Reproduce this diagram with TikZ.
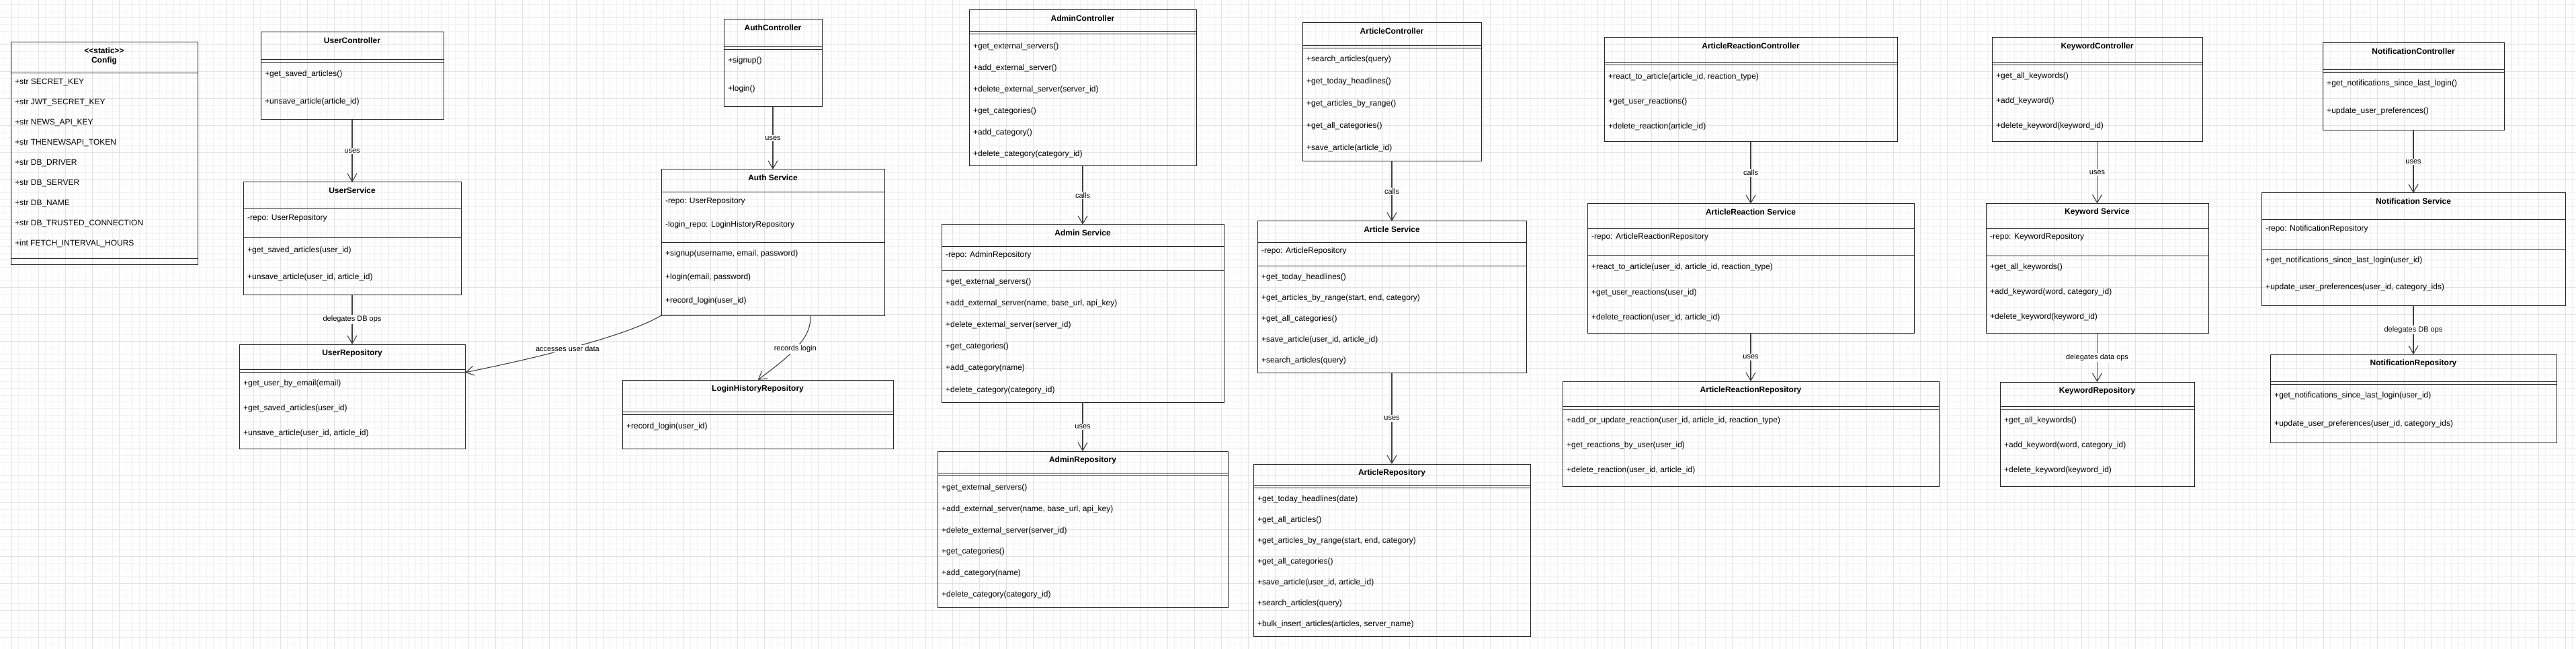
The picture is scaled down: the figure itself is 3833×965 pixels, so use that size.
\documentclass[tikz,border=0pt]{standalone}
\usepackage{fontspec}
\setmainfont{Liberation Sans}
\usetikzlibrary{arrows.meta}

% Klassenrahmen: Name, links, oben, rechts, unten, Titel
\newcommand{\klasse}[6]{%
  \xdef\kl{#2}\xdef\kr{#4}%
  \node[rahmen, minimum width={#4-#2}, minimum height={#5-#3}] (#1) at ({(#2+#4)/2},{(#3+#5)/2}) {};
  \node[titel] (#1-titel) at ([yshift=-13pt]#1.north) {#6};
}
% Trennlinie und leeres Fach
\newcommand{\trenn}[1]{\draw[linie] (\kl,#1) -- (\kr,#1);}
\newcommand{\doppel}[1]{\trenn{#1}\trenn{#1+4}}
% Zeilen: Praefix, erstes y, Abstand, Liste
\newcommand{\zeilen}[4]{%
  \foreach \z [count=\k] in {#4}
    \node[zeile] (#1-\k) at (\kl+6,{#2+(\k-1)*#3}) {\z};
}

\begin{document}
\begin{tikzpicture}[x=1pt, y=-1pt]

\tikzset{
  rahmen/.style={draw=black!85, line width=1pt, inner sep=0pt, outer sep=0pt},
  linie/.style={draw=black!85, line width=1pt},
  titel/.style={font=\bfseries\fontsize{12}{14}\selectfont, inner sep=0pt, text height=9pt, text depth=2.5pt},
  zeile/.style={anchor=west, font=\fontsize{12}{14}\selectfont, inner sep=0pt, text height=9pt, text depth=2.5pt},
  abh/.style={draw=black!75, line width=1.1pt, -{Straight Barb[length=12pt,width=14pt]}},
  beschr/.style={fill=white, font=\fontsize{11}{13}\selectfont, inner sep=1.5pt},
  rasterfein/.style={draw=black!5, line width=1pt},
  rastergrob/.style={draw=black!11, line width=1pt}
}

\useasboundingbox (0,0) rectangle (3833,965);

% 0. Raster im Hintergrund
\fill[white] (0,0) rectangle (3833,965);
\draw[rasterfein] \foreach \g in {7,17,...,3827} {(\g,0) -- (\g,965)};
\draw[rasterfein] \foreach \g in {7,17,...,957} {(0,\g) -- (3833,\g)};
\draw[rastergrob] \foreach \g in {17,57,...,3817} {(\g,0) -- (\g,965)};
\draw[rastergrob] \foreach \g in {27,67,...,947} {(0,\g) -- (3833,\g)};

% 1. Config
\klasse{config}{16}{63}{294}{393}{<\kern0pt<static>\kern0pt>}
\node[titel] (config-titel2) at ([yshift=-14pt]config-titel) {Config};
\trenn{108.3}
\zeilen{config}{122}{30}{{+str SECRET\_KEY}, {+str JWT\_SECRET\_KEY}, {+str NEWS\_API\_KEY},
  {+str THENEWSAPI\_TOKEN}, {+str DB\_DRIVER}, {+str DB\_SERVER}, {+str DB\_NAME},
  {+str DB\_TRUSTED\_CONNECTION}, {+int FETCH\_INTERVAL\_HOURS}}
\trenn{385}

% 2. User
\klasse{uctrl}{388}{48}{660}{178}{UserController}
\doppel{88.3}
\zeilen{uctrl}{110}{41}{{+get\_saved\_articles()}, {+unsave\_article(article\_id)}}

\klasse{usvc}{362}{271}{686}{438}{UserService}
\trenn{311}
\zeilen{usvc-a}{324}{0}{{-repo: UserRepository}}
\trenn{354}
\zeilen{usvc}{372}{40}{{+get\_saved\_articles(user\_id)}, {+unsave\_article(user\_id, article\_id)}}

\klasse{urepo}{356}{512}{692}{667}{UserRepository}
\doppel{549.3}
\zeilen{urepo}{570}{37}{{+get\_user\_by\_email(email)}, {+get\_saved\_articles(user\_id)},
  {+unsave\_article(user\_id, article\_id)}}

% 3. Auth
\klasse{actrl}{1077}{29}{1223}{159}{AuthController}
\doppel{69.3}
\zeilen{actrl}{90.7}{41.3}{{+signup()}, {+login()}}

\klasse{asvc}{984}{252}{1316}{469}{Auth Service}
\trenn{286}
\zeilen{asvc-a}{299.7}{35}{{-repo: UserRepository}, {-login\_repo: LoginHistoryRepository}}
\trenn{360.3}
\zeilen{asvc}{377.7}{35}{{+signup(username, email, password)}, {+login(email, password)},
  {+record\_login(user\_id)}}

\klasse{lhr}{926}{565}{1329}{667}{LoginHistoryRepository}
\doppel{612.7}
\zeilen{lhr}{634}{0}{{+record\_login(user\_id)}}

% 4. Admin
\klasse{admctrl}{1442}{15}{1780}{247}{AdminController}
\doppel{47}
\zeilen{admctrl}{69}{32}{{+get\_external\_servers()}, {+add\_external\_server()},
  {+delete\_external\_server(server\_id)}, {+get\_categories()}, {+add\_category()},
  {+delete\_category(category\_id)}}

\klasse{admsvc}{1401}{334}{1821}{598}{Admin Service}
\trenn{366.3}
\zeilen{admsvc-a}{379.7}{0}{{-repo: AdminRepository}}
\trenn{402.3}
\zeilen{admsvc}{419.3}{32.1}{{+get\_external\_servers()}, {+add\_external\_server(name, base\_url, api\_key)},
  {+delete\_external\_server(server\_id)}, {+get\_categories()}, {+add\_category(name)},
  {+delete\_category(category\_id)}}

\klasse{admrepo}{1395}{671}{1827}{903}{AdminRepository}
\doppel{703.3}
\zeilen{admrepo}{725}{31.9}{{+get\_external\_servers()}, {+add\_external\_server(name, base\_url, api\_key)},
  {+delete\_external\_server(server\_id)}, {+get\_categories()}, {+add\_category(name)},
  {+delete\_category(category\_id)}}

% 5. Article
\klasse{artctrl}{1938}{34}{2204}{240}{ArticleController}
\doppel{67.7}
\zeilen{artctrl}{88.7}{33}{{+search\_articles(query)}, {+get\_today\_headlines()},
  {+get\_articles\_by\_range()}, {+get\_all\_categories()}, {+save\_article(article\_id)}}

\klasse{artsvc}{1871}{329}{2271}{554}{Article Service}
\trenn{360.3}
\zeilen{artsvc-a}{373.7}{0}{{-repo: ArticleRepository}}
\trenn{395.3}
\zeilen{artsvc}{412.7}{31}{{+get\_today\_headlines()}, {+get\_articles\_by\_range(start, end, category)},
  {+get\_all\_categories()}, {+save\_article(user\_id, article\_id)}, {+search\_articles(query)}}

\klasse{artrepo}{1865}{690}{2277}{946}{ArticleRepository}
\doppel{721.7}
\zeilen{artrepo}{742.7}{31}{{+get\_today\_headlines(date)}, {+get\_all\_articles()},
  {+get\_articles\_by\_range(start, end, category)}, {+get\_all\_categories()},
  {+save\_article(user\_id, article\_id)}, {+search\_articles(query)},
  {+bulk\_insert\_articles(articles, server\_name)}}

% 6. ArticleReaction
\klasse{rctrl}{2387}{56}{2823}{211}{ArticleReactionController}
\doppel{92.3}
\zeilen{rctrl}{114}{37}{{+react\_to\_article(article\_id, reaction\_type)}, {+get\_user\_reactions()},
  {+delete\_reaction(article\_id)}}

\klasse{rsvc}{2362}{303}{2848}{495}{ArticleReaction Service}
\trenn{339.3}
\zeilen{rsvc-a}{352.7}{0}{{-repo: ArticleReactionRepository}}
\trenn{380}
\zeilen{rsvc}{397.7}{37.2}{{+react\_to\_article(user\_id, article\_id, reaction\_type)},
  {+get\_user\_reactions(user\_id)}, {+delete\_reaction(user\_id, article\_id)}}

\klasse{rrepo}{2325}{567}{2885}{723}{ArticleReactionRepository}
\doppel{604.3}
\zeilen{rrepo}{625.7}{37}{{+add\_or\_update\_reaction(user\_id, article\_id, reaction\_type)},
  {+get\_reactions\_by\_user(user\_id)}, {+delete\_reaction(user\_id, article\_id)}}

% 7. Keyword
\klasse{kctrl}{2964}{56}{3277}{211}{KeywordController}
\doppel{92.5}
\zeilen{kctrl}{113.4}{37.1}{{+get\_all\_keywords()}, {+add\_keyword()}, {+delete\_keyword(keyword\_id)}}

\klasse{ksvc}{2955}{302.5}{3286}{495}{Keyword Service}
\trenn{339.3}
\zeilen{ksvc-a}{352.7}{0}{{-repo: KeywordRepository}}
\trenn{380.6}
\zeilen{ksvc}{397.5}{37}{{+get\_all\_keywords()}, {+add\_keyword(word, category\_id)},
  {+delete\_keyword(keyword\_id)}}

\klasse{krepo}{2976}{568}{3265}{723}{KeywordRepository}
\doppel{604}
\zeilen{krepo}{625.4}{37}{{+get\_all\_keywords()}, {+add\_keyword(word, category\_id)},
  {+delete\_keyword(keyword\_id)}}

% 8. Notification
\klasse{nctrl}{3456}{64}{3726}{193.5}{NotificationController}
\doppel{104}
\zeilen{nctrl}{124.4}{41.3}{{+get\_notifications\_since\_last\_login()}, {+update\_user\_preferences()}}

\klasse{nsvc}{3365}{287}{3817}{454}{Notification Service}
\trenn{326.4}
\zeilen{nsvc-a}{339.8}{0}{{-repo: NotificationRepository}}
\trenn{370.6}
\zeilen{nsvc}{387.6}{39.8}{{+get\_notifications\_since\_last\_login(user\_id)},
  {+update\_user\_preferences(user\_id, category\_ids)}}

\klasse{nrepo}{3378}{527}{3804}{658}{NotificationRepository}
\doppel{567.7}
\zeilen{nrepo}{588.6}{41.3}{{+get\_notifications\_since\_last\_login(user\_id)},
  {+update\_user\_preferences(user\_id, category\_ids)}}

% 9. Abhaengigkeiten
\draw[abh] (uctrl.south) -- (usvc.north) node[midway, beschr] {uses};
\draw[abh] (usvc.south) -- (urepo.north) node[midway, beschr] {delegates DB ops};
\draw[abh] (actrl.south) -- (asvc.north) node[midway, beschr] {uses};
\draw[abh] (asvc.south west) .. controls +(-50,30) and +(110,-22) .. (urepo.12.4)
  node[pos=0.55, beschr] {accesses user data};
\draw[abh] (asvc.-63.8) .. controls +(5,35) and +(40,-30) .. (lhr.north)
  node[pos=0.5, beschr] {records login};
\draw[abh] (admctrl.south) -- (admsvc.north) node[midway, beschr] {calls};
\draw[abh] (admsvc.south) -- (admrepo.north) node[midway, beschr] {uses};
\draw[abh] (artctrl.south) -- (artsvc.north) node[midway, beschr] {calls};
\draw[abh] (artsvc.south) -- (artrepo.north) node[midway, beschr] {uses};
\draw[abh] (rctrl.south) -- (rsvc.north) node[midway, beschr] {calls};
\draw[abh] (rsvc.south) -- (rrepo.north) node[midway, beschr] {uses};
\draw[abh] (kctrl.south) -- (ksvc.north) node[midway, beschr] {uses};
\draw[abh] (ksvc.south) -- (krepo.north) node[midway, beschr] {delegates data ops};
\draw[abh] (nctrl.south) -- (nsvc.north) node[midway, beschr] {uses};
\draw[abh] (nsvc.south) -- (nrepo.north) node[midway, beschr] {delegates DB ops};

\end{tikzpicture}
\end{document}
